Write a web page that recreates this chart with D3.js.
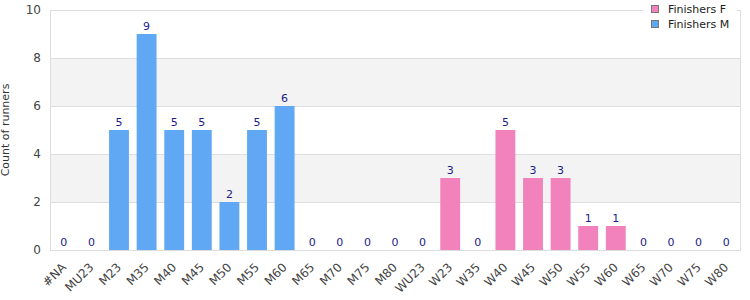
<!DOCTYPE html>
<html>
<head>
<meta charset="utf-8">
<script src="https://cdn.jsdelivr.net/npm/d3@7"></script>
<style>
  body { margin: 0; background: #fff; }
  text { font-family: "DejaVu Sans", sans-serif; }
</style>
</head>
<body>
<div id="chart"></div>
<script>
// categories and values
const categories = ["#NA", "MU23", "M23", "M35", "M40", "M45", "M50", "M55", "M60", "M65", "M70", "M75", "M80",
    "WU23", "W23", "W35", "W40", "W45", "W50", "W55", "W60", "W65", "W70", "W75", "W80"]
const finishersM = [0, 0, 5, 9, 5, 5, 2, 5, 6, 0, 0, 0, 0, 0, null, null, null, null, null, null, null, null, null, null, null]
const finishersF = [null, null, null, null, null, null, null, null, null, null, null, null, null, null, 3, 0, 5, 3, 3, 1, 1, 0, 0, 0, 0]
const yTicks = [0, 2, 4, 6, 8, 10]
const legendItems = ["Finishers F", "Finishers M"]

const colors = { "Finishers F": "#f282bc", "Finishers M": "#60a8f3" }

const width = 750, height = 300
const margin = { top: 10, right: 10, bottom: 50, left: 50 }
const w = width - margin.left - margin.right
const h = height - margin.top - margin.bottom

const svg = d3.select('#chart')
    .append('svg')
    .attr('width', width)
    .attr('height', height)

const g = svg.append('g')
    .attr('transform', `translate(${margin.left},${margin.top})`)

const x = d3.scaleBand()
    .domain(categories)
    .range([0, w])
    .paddingInner(0.28)
    .paddingOuter(0.14)

const y = d3.scaleLinear()
    .domain([0, 10])
    .range([h, 0])

// alternating bands
for (let i = 0; i < yTicks.length - 1; i++) {
    if (i % 2 == 1) {
        g.append('rect')
            .attr('x', 0)
            .attr('y', y(yTicks[i + 1]))
            .attr('width', w)
            .attr('height', y(yTicks[i]) - y(yTicks[i + 1]))
            .attr('fill', '#f3f3f3')
    }
}

// grid lines
g.selectAll('.grid')
    .data(yTicks)
    .enter()
    .append('line')
    .attr('x1', 0)
    .attr('x2', w)
    .attr('y1', d => Math.round(y(d)) + 0.5)
    .attr('y2', d => Math.round(y(d)) + 0.5)
    .attr('stroke', '#dddddd')

// frame
g.append('rect')
    .attr('x', 0.5)
    .attr('y', 0.5)
    .attr('width', w)
    .attr('height', h)
    .attr('fill', 'none')
    .attr('stroke', '#dddddd')

// bars
const rows = categories.map((c, i) => {
    const m = finishersM[i], f = finishersF[i]
    return f != null ? { cat: c, value: f, series: "Finishers F" } : { cat: c, value: m, series: "Finishers M" }
})

g.selectAll('.bar')
    .data(rows)
    .enter()
    .append('rect')
    .attr('x', d => x(d.cat))
    .attr('y', d => y(d.value))
    .attr('width', x.bandwidth())
    .attr('height', d => h - y(d.value))
    .attr('fill', d => colors[d.series])

g.selectAll('.val')
    .data(rows)
    .enter()
    .append('text')
    .attr('x', d => x(d.cat) + x.bandwidth() / 2)
    .attr('y', d => y(d.value) - 4)
    .attr('text-anchor', 'middle')
    .attr('font-size', 11)
    .attr('fill', '#1c1c8a')
    .text(d => d.value)

// y axis
const yAxis = g.append('g')
    .call(d3.axisLeft(y).tickValues(yTicks).tickSize(0).tickPadding(9))
yAxis.select('.domain').remove()
yAxis.selectAll('text')
    .attr('font-family', '"Liberation Sans", Arial, sans-serif')
    .attr('font-size', 12)
    .attr('fill', '#444')

// x axis
const xAxis = g.append('g')
    .attr('transform', `translate(0,${h})`)
    .call(d3.axisBottom(x).tickSize(0).tickPadding(0))
xAxis.select('.domain').remove()
xAxis.selectAll('text')
    .attr('font-family', '"Liberation Sans", Arial, sans-serif')
    .attr('font-size', 12)
    .attr('fill', '#444')
    .attr('text-anchor', 'end')
    .attr('dy', 0)
    .attr('transform', 'translate(3,18) rotate(-45)')

// y axis title
svg.append('text')
    .attr('transform', `translate(9,${margin.top + h / 2}) rotate(-90)`)
    .attr('text-anchor', 'middle')
    .attr('font-size', 11)
    .attr('fill', '#333')
    .text('Count of runners')

// legend
const legend = svg.append('g')
    .attr('transform', 'translate(643,0)')
legend.append('rect')
    .attr('x', 0)
    .attr('y', 0)
    .attr('width', 94)
    .attr('height', 30)
    .attr('fill', '#fff')
legendItems.forEach((name, i) => {
    legend.append('rect')
        .attr('x', 8.5)
        .attr('y', 5.5 + i * 15)
        .attr('width', 7)
        .attr('height', 7)
        .attr('fill', colors[name])
        .attr('stroke', '#777')
    legend.append('text')
        .attr('x', 25)
        .attr('y', 13 + i * 15)
        .attr('font-size', 11)
        .attr('fill', '#222')
        .text(name)
})
</script>
</body>
</html>
